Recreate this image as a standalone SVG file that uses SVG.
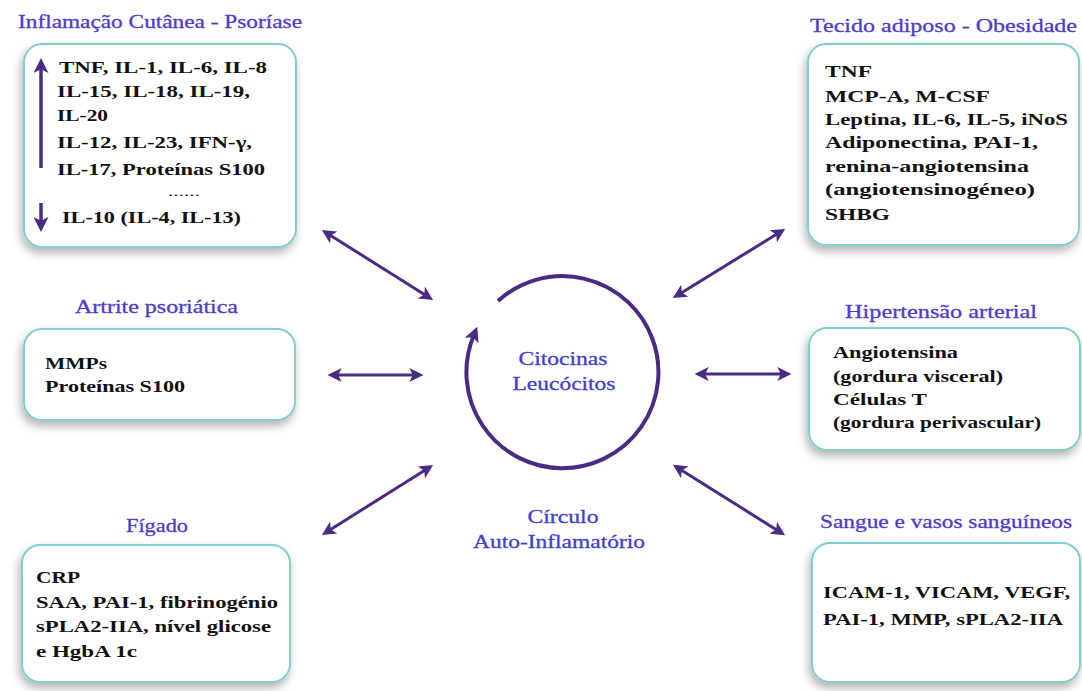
<svg xmlns="http://www.w3.org/2000/svg" width="1082" height="691" viewBox="0 0 1082 691">
<defs>
<style>
.box{fill:#fff;stroke:#7fcfd0;stroke-width:2;filter:url(#sh)}
.t{font-family:"Liberation Serif","DejaVu Serif",serif;font-size:17px;font-weight:bold;fill:#111}
.ti{font-family:"Liberation Serif","DejaVu Serif",serif;font-size:19px;fill:#4a3ccf;stroke:#4a3ccf;stroke-width:0.3}
.c{font-family:"Liberation Serif","DejaVu Serif",serif;font-size:19px;fill:#4040d0;stroke:#4040d0;stroke-width:0.3;text-anchor:middle}
.ar{stroke:#4b2a84;stroke-width:3;fill:none;marker-start:url(#ah);marker-end:url(#ah)}
</style>
<filter id="sh" x="-20%" y="-20%" width="140%" height="150%">
<feDropShadow dx="-2" dy="5" stdDeviation="5" flood-color="#000" flood-opacity="0.3"/>
</filter>
<marker id="ah" viewBox="0 0 12 12" markerWidth="14" markerHeight="14" markerUnits="userSpaceOnUse" refX="4" refY="6" orient="auto-start-reverse">
<path d="M0,0 L12,6 L0,12 L3,6 z" fill="#4b2a84"/>
</marker>
<marker id="ahe" viewBox="0 0 12 12" markerWidth="15" markerHeight="15" markerUnits="userSpaceOnUse" refX="4" refY="6" orient="auto">
<path d="M0,0 L12,6 L0,12 L3,6 z" fill="#4b2a84"/>
</marker>
</defs>
<rect width="1082" height="691" fill="#fff"/>

<g id="connectors">
<line class="ar" x1="329.8" y1="235" x2="425.2" y2="295"/>
<line class="ar" x1="337" y1="375" x2="414" y2="375"/>
<line class="ar" x1="329.8" y1="530" x2="425.2" y2="470"/>
<line class="ar" x1="680.8" y1="293.2" x2="777.2" y2="233.8"/>
<line class="ar" x1="704" y1="374" x2="782" y2="374"/>
<line class="ar" x1="680.8" y1="469.8" x2="777.2" y2="530.2"/>
</g>

<g id="cycle">
<path d="M498,301 A96,96 0 1 1 473.5,336" fill="none" stroke="#4b2a84" stroke-width="4" marker-end="url(#ahe)"/>
<text class="c" x="563" y="365" textLength="89" lengthAdjust="spacingAndGlyphs">Citocinas</text>
<text class="c" x="564" y="390" textLength="103" lengthAdjust="spacingAndGlyphs">Leucócitos</text>
<text class="c" x="563" y="523" textLength="71" lengthAdjust="spacingAndGlyphs">Círculo</text>
<text class="c" x="559" y="548" textLength="172" lengthAdjust="spacingAndGlyphs">Auto-Inflamatório</text>
</g>

<g id="psoriase">
<text class="ti" x="18" y="28" textLength="284" lengthAdjust="spacingAndGlyphs">Inflamação Cutânea - Psoríase</text>
<rect class="box" x="24" y="44" width="272" height="203" rx="18"/>
<line x1="41" y1="168" x2="41" y2="68" stroke="#4b2a84" stroke-width="3.5" marker-end="url(#ahe)"/>
<line x1="41" y1="203" x2="41" y2="222" stroke="#4b2a84" stroke-width="3.5" marker-end="url(#ahe)"/>
<text class="t" x="59" y="73" textLength="208" lengthAdjust="spacingAndGlyphs">TNF, IL-1, IL-6, IL-8</text>
<text class="t" x="57" y="97" textLength="193" lengthAdjust="spacingAndGlyphs">IL-15, IL-18, IL-19,</text>
<text class="t" x="57" y="121" textLength="51" lengthAdjust="spacingAndGlyphs">IL-20</text>
<text class="t" x="57" y="148" textLength="195" lengthAdjust="spacingAndGlyphs">IL-12, IL-23, IFN-γ,</text>
<text class="t" x="57" y="175" textLength="208" lengthAdjust="spacingAndGlyphs">IL-17, Proteínas S100</text>
<text class="t" x="168" y="196" textLength="32" lengthAdjust="spacingAndGlyphs" style="font-size:12px;font-weight:normal">......</text>
<text class="t" x="62" y="223" textLength="179" lengthAdjust="spacingAndGlyphs">IL-10 (IL-4, IL-13)</text>
</g>

<g id="adiposo">
<text class="ti" x="810" y="32" textLength="267" lengthAdjust="spacingAndGlyphs">Tecido adiposo - Obesidade</text>
<rect class="box" x="808" y="44" width="271" height="201" rx="18"/>
<text class="t" x="825" y="77" textLength="47" lengthAdjust="spacingAndGlyphs">TNF</text>
<text class="t" x="825" y="102" textLength="165" lengthAdjust="spacingAndGlyphs">MCP-A, M-CSF</text>
<text class="t" x="825" y="125" textLength="243" lengthAdjust="spacingAndGlyphs">Leptina, IL-6, IL-5, iNoS</text>
<text class="t" x="825" y="148" textLength="213" lengthAdjust="spacingAndGlyphs">Adiponectina, PAI-1,</text>
<text class="t" x="825" y="172" textLength="204" lengthAdjust="spacingAndGlyphs">renina-angiotensina</text>
<text class="t" x="825" y="195" textLength="210" lengthAdjust="spacingAndGlyphs">(angiotensinogéneo)</text>
<text class="t" x="825" y="220" textLength="65" lengthAdjust="spacingAndGlyphs">SHBG</text>
</g>

<g id="artrite">
<text class="ti" x="75" y="313" textLength="163" lengthAdjust="spacingAndGlyphs">Artrite psoriática</text>
<rect class="box" x="24" y="329" width="271" height="91" rx="18"/>
<text class="t" x="45" y="369" textLength="62" lengthAdjust="spacingAndGlyphs">MMPs</text>
<text class="t" x="45" y="392" textLength="140" lengthAdjust="spacingAndGlyphs">Proteínas S100</text>
</g>

<g id="hipertensao">
<text class="ti" x="845" y="318" textLength="192" lengthAdjust="spacingAndGlyphs">Hipertensão arterial</text>
<rect class="box" x="809" y="328" width="271" height="122" rx="18"/>
<text class="t" x="833" y="358" textLength="125" lengthAdjust="spacingAndGlyphs">Angiotensina</text>
<text class="t" x="833" y="382" textLength="170" lengthAdjust="spacingAndGlyphs">(gordura visceral)</text>
<text class="t" x="833" y="405" textLength="94" lengthAdjust="spacingAndGlyphs">Células T</text>
<text class="t" x="833" y="428" textLength="208" lengthAdjust="spacingAndGlyphs">(gordura perivascular)</text>
</g>

<g id="figado">
<text class="ti" x="126" y="532" textLength="62" lengthAdjust="spacingAndGlyphs">Fígado</text>
<rect class="box" x="22" y="545" width="268" height="137" rx="18"/>
<text class="t" x="36" y="583" textLength="44" lengthAdjust="spacingAndGlyphs">CRP</text>
<text class="t" x="36" y="608" textLength="242" lengthAdjust="spacingAndGlyphs">SAA, PAI-1, fibrinogénio</text>
<text class="t" x="36" y="632" textLength="235" lengthAdjust="spacingAndGlyphs">sPLA2-IIA, nível glicose</text>
<text class="t" x="36" y="657" textLength="101" lengthAdjust="spacingAndGlyphs">e HgbA 1c</text>
</g>

<g id="sangue">
<text class="ti" x="820" y="528" textLength="252" lengthAdjust="spacingAndGlyphs">Sangue e vasos sanguíneos</text>
<rect class="box" x="812" y="543" width="268" height="139" rx="18"/>
<text class="t" x="823" y="598" textLength="247" lengthAdjust="spacingAndGlyphs">ICAM-1, VICAM, VEGF,</text>
<text class="t" x="823" y="625" textLength="240" lengthAdjust="spacingAndGlyphs">PAI-1, MMP, sPLA2-IIA</text>
</g>
</svg>
